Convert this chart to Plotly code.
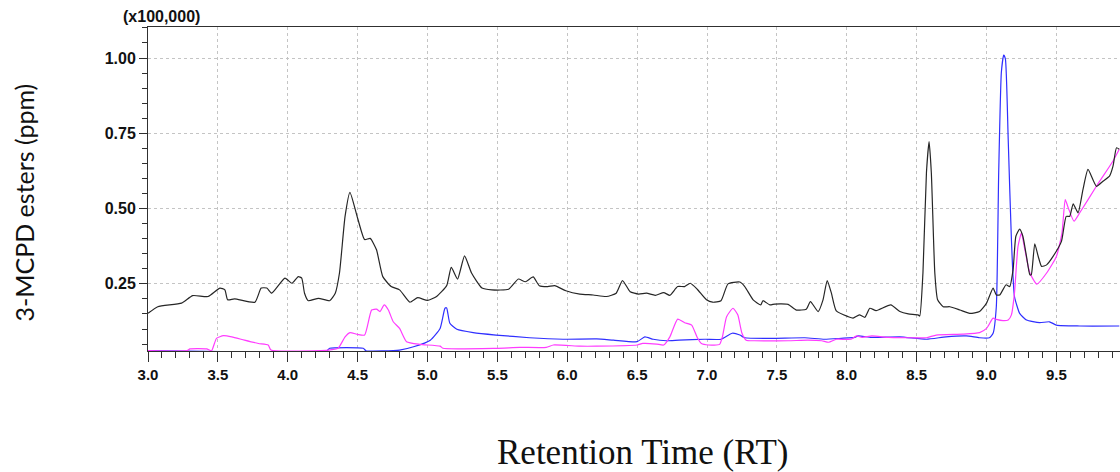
import plotly.graph_objects as go

# Retention time (min) and detector response (x100,000 counts) for each trace
rt_black = [3.00, 3.07, 3.24, 3.32, 3.43, 3.515, 3.55, 3.57, 3.62, 3.765, 3.81, 3.85, 3.885, 3.98, 4.03,
            4.075, 4.10, 4.12, 4.147, 4.22, 4.30, 4.34, 4.37, 4.41, 4.445, 4.50, 4.55, 4.59, 4.635, 4.68,
            4.74, 4.80, 4.874, 4.93, 5.00, 5.065, 5.137, 5.17, 5.215, 5.265, 5.315, 5.39, 5.46, 5.58, 5.65,
            5.70, 5.756, 5.80, 5.86, 5.91, 5.99, 6.09, 6.185, 6.28, 6.35, 6.395, 6.45, 6.51, 6.567, 6.63,
            6.69, 6.734, 6.79, 6.84, 6.88, 6.93, 6.996, 7.04, 7.10, 7.15, 7.235, 7.27, 7.33, 7.385, 7.40,
            7.45, 7.485, 7.58, 7.64, 7.71, 7.74, 7.795, 7.83, 7.86, 7.89, 7.925, 8.01, 8.045, 8.09, 8.13,
            8.165, 8.21, 8.315, 8.38, 8.44, 8.51, 8.522, 8.545, 8.57, 8.589, 8.605, 8.63, 8.65, 8.69, 8.737,
            8.81, 8.88, 8.95, 9.00, 9.047, 9.07, 9.094, 9.14, 9.166, 9.19, 9.21, 9.237, 9.26, 9.286, 9.31,
            9.32, 9.345, 9.37, 9.394, 9.43, 9.476, 9.536, 9.57, 9.595, 9.62, 9.655, 9.69, 9.726, 9.786,
            9.833, 9.88, 9.905, 9.93, 9.95]
resp_black = [0.152, 0.174, 0.186, 0.211, 0.208, 0.236, 0.230, 0.197, 0.200, 0.189, 0.236, 0.236, 0.219,
              0.269, 0.252, 0.274, 0.269, 0.219, 0.194, 0.202, 0.194, 0.219, 0.286, 0.474, 0.554, 0.468,
              0.397, 0.401, 0.363, 0.274, 0.241, 0.230, 0.189, 0.204, 0.195, 0.208, 0.244, 0.305, 0.266,
              0.343, 0.286, 0.236, 0.230, 0.232, 0.266, 0.257, 0.273, 0.244, 0.241, 0.244, 0.227, 0.216,
              0.213, 0.208, 0.219, 0.261, 0.224, 0.216, 0.219, 0.212, 0.221, 0.212, 0.241, 0.241, 0.252,
              0.232, 0.197, 0.189, 0.194, 0.250, 0.256, 0.241, 0.197, 0.180, 0.194, 0.180, 0.183, 0.182,
              0.163, 0.166, 0.191, 0.158, 0.197, 0.261, 0.219, 0.160, 0.141, 0.136, 0.147, 0.139, 0.169,
              0.161, 0.180, 0.158, 0.150, 0.147, 0.143, 0.286, 0.619, 0.722, 0.619, 0.286, 0.197, 0.174,
              0.174, 0.163, 0.152, 0.158, 0.186, 0.236, 0.213, 0.213, 0.247, 0.241, 0.297, 0.408, 0.432,
              0.408, 0.341, 0.280, 0.280, 0.383, 0.341, 0.308, 0.313, 0.341, 0.391, 0.474, 0.474, 0.516,
              0.486, 0.563, 0.630, 0.574, 0.591, 0.608, 0.641, 0.702, 0.697]

rt_blue = [3.00, 4.28, 4.30, 4.54, 4.56, 4.80, 4.90, 5.02, 5.09, 5.125, 5.137, 5.16, 5.21, 5.327, 5.49,
           5.73, 5.97, 6.21, 6.33, 6.50, 6.555, 6.615, 6.71, 6.80, 6.985, 7.10, 7.18, 7.235, 7.27, 7.46,
           7.70, 7.84, 7.96, 8.057, 8.08, 8.176, 8.38, 8.57, 8.71, 8.855, 8.95, 9.02, 9.047, 9.07, 9.087,
           9.106, 9.123, 9.135, 9.155, 9.178, 9.20, 9.237, 9.286, 9.38, 9.45, 9.50, 9.667, 9.95]
resp_blue = [0.028, 0.028, 0.036, 0.036, 0.028, 0.030, 0.041, 0.063, 0.102, 0.169, 0.170, 0.119, 0.099,
             0.088, 0.080, 0.071, 0.066, 0.067, 0.063, 0.058, 0.074, 0.066, 0.061, 0.063, 0.066, 0.066,
             0.086, 0.080, 0.071, 0.069, 0.071, 0.066, 0.069, 0.072, 0.077, 0.072, 0.074, 0.066, 0.074,
             0.077, 0.071, 0.071, 0.086, 0.174, 0.619, 0.952, 1.010, 0.997, 0.730, 0.397, 0.208, 0.152,
             0.130, 0.121, 0.124, 0.113, 0.110, 0.110]

rt_magenta = [3.00, 3.28, 3.30, 3.42, 3.455, 3.49, 3.54, 3.60, 3.69, 3.79, 3.86, 3.88, 4.29, 4.36, 4.41,
              4.445, 4.50, 4.55, 4.60, 4.635, 4.66, 4.69, 4.72, 4.755, 4.80, 4.85, 4.945, 5.09, 5.11, 5.49,
              5.66, 5.85, 5.90, 6.09, 6.21, 6.50, 6.54, 6.64, 6.69, 6.734, 6.79, 6.84, 6.89, 6.93, 6.96,
              7.01, 7.09, 7.11, 7.14, 7.186, 7.22, 7.25, 7.28, 7.34, 7.58, 7.72, 7.82, 7.87, 7.925, 8.03,
              8.07, 8.11, 8.18, 8.30, 8.47, 8.57, 8.64, 8.83, 8.95, 9.00, 9.047, 9.07, 9.118, 9.155, 9.178,
              9.20, 9.225, 9.25, 9.27, 9.31, 9.36, 9.43, 9.50, 9.54, 9.563, 9.585, 9.626, 9.667, 9.786,
              9.905, 9.95]
resp_magenta = [0.028, 0.028, 0.034, 0.034, 0.028, 0.069, 0.078, 0.074, 0.063, 0.052, 0.047, 0.030, 0.030,
                0.036, 0.074, 0.088, 0.082, 0.080, 0.163, 0.166, 0.158, 0.180, 0.163, 0.124, 0.102, 0.058,
                0.049, 0.043, 0.036, 0.036, 0.039, 0.039, 0.047, 0.043, 0.043, 0.047, 0.052, 0.050, 0.047,
                0.074, 0.133, 0.121, 0.113, 0.072, 0.052, 0.047, 0.049, 0.074, 0.141, 0.169, 0.147, 0.086,
                0.063, 0.061, 0.061, 0.063, 0.061, 0.056, 0.066, 0.066, 0.077, 0.072, 0.077, 0.072, 0.071,
                0.071, 0.080, 0.083, 0.088, 0.102, 0.136, 0.132, 0.128, 0.130, 0.147, 0.219, 0.374, 0.419,
                0.374, 0.286, 0.249, 0.286, 0.341, 0.419, 0.530, 0.502, 0.458, 0.486, 0.574, 0.658, 0.697]

x_ticks = [3.0, 3.5, 4.0, 4.5, 5.0, 5.5, 6.0, 6.5, 7.0, 7.5, 8.0, 8.5, 9.0, 9.5]
y_ticks = [0.25, 0.50, 0.75, 1.00]

narrow = "Liberation Sans Narrow, Arial Narrow, Liberation Sans, sans-serif"

fig = go.Figure()
for xs, ys, col in [(rt_blue, resp_blue, "#2f2fff"),
                    (rt_magenta, resp_magenta, "#ff3cff"),
                    (rt_black, resp_black, "#262626")]:
    fig.add_trace(go.Scatter(x=xs, y=ys, mode="lines",
                             line=dict(color=col, width=1.2, shape="spline", smoothing=0.5),
                             showlegend=False, hoverinfo="skip"))

fig.update_layout(
    width=1120, height=472,
    margin=dict(l=148, r=0, t=27, b=121),
    paper_bgcolor="white", plot_bgcolor="white",
    xaxis=dict(
        range=[3.0, 9.955], tickvals=x_ticks, ticktext=[f"{v:.1f}" for v in x_ticks],
        showline=True, linecolor="#303030", linewidth=1, mirror=True,
        ticks="outside", ticklen=10, tickcolor="#303030",
        minor=dict(dtick=0.1, ticks="outside", ticklen=6, tickcolor="#303030", showgrid=False),
        showgrid=True, gridcolor="#c4c4c4", griddash="3px,3px", gridwidth=1,
        zeroline=False,
        tickfont=dict(family=narrow, size=15, color="#111111", weight="bold"),
    ),
    yaxis=dict(
        range=[0.027, 1.103], tickvals=y_ticks, ticktext=[f"{v:.2f}" for v in y_ticks],
        showline=True, linecolor="#303030", linewidth=1,
        ticks="outside", ticklen=8, tickcolor="#303030",
        minor=dict(dtick=0.05, tick0=0, ticks="outside", ticklen=5, tickcolor="#303030", showgrid=False),
        showgrid=True, gridcolor="#c4c4c4", griddash="3px,3px", gridwidth=1,
        zeroline=False,
        tickfont=dict(family=narrow, size=16, color="#111111", weight="bold"),
    ),
    annotations=[
        dict(text="(x100,000)", xref="paper", yref="paper", x=0.0144, y=1.0,
             xanchor="center", yanchor="bottom", showarrow=False,
             font=dict(family=narrow, size=16, color="#111111", weight="bold")),
        dict(text="3-MCPD esters (ppm)", xref="paper", yref="paper", x=-0.128, y=0.457,
             xanchor="center", yanchor="middle", textangle=-90, showarrow=False,
             font=dict(family="Lato, Open Sans, sans-serif", size=25, color="#111111")),
        dict(text="Retention Time (RT)", xref="paper", yref="paper", x=0.509, y=-0.312,
             xanchor="center", yanchor="middle", showarrow=False,
             font=dict(family="Liberation Serif, DejaVu Serif, serif", size=35, color="#111111")),
    ],
)

fig.write_html("out.html")
